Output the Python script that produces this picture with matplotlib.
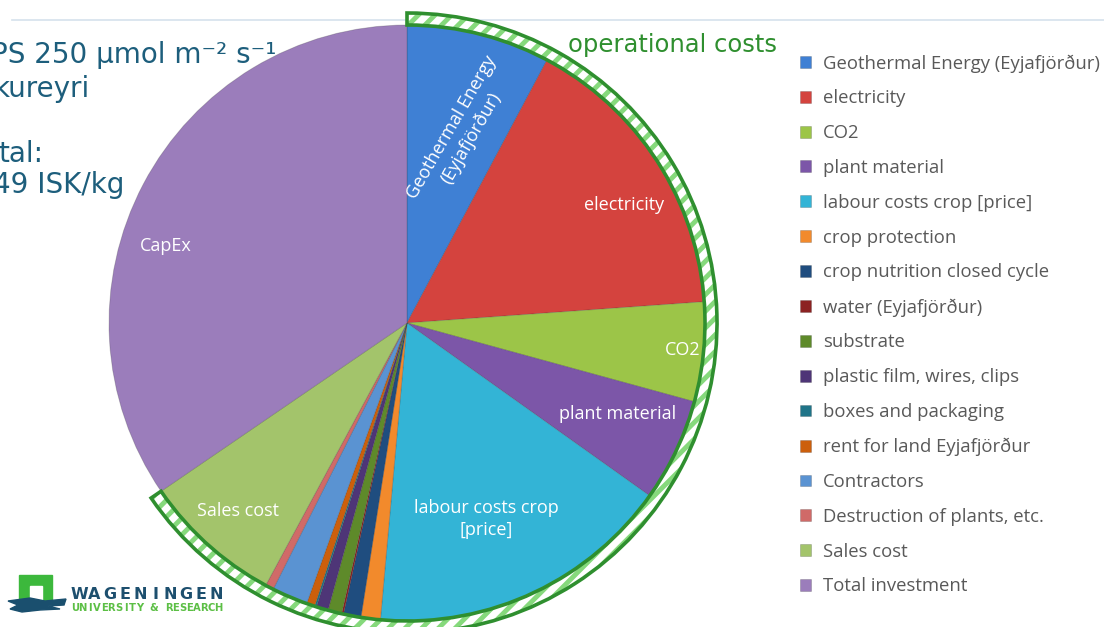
import numpy as np
import matplotlib.pyplot as plt
from matplotlib.patches import Wedge, Rectangle, Polygon

W, H = 1104, 627

categories = ["Geothermal Energy (Eyjafjörður)", "electricity", "CO2", "plant material",
              "labour costs crop [price]", "crop protection", "crop nutrition closed cycle",
              "water (Eyjafjörður)", "substrate", "plastic film, wires, clips",
              "boxes and packaging", "rent for land Eyjafjörður", "Contractors",
              "Destruction of plants, etc.", "Sales cost", "Total investment"]
shares = [7.8, 16.1, 5.4, 5.6, 16.6, 1.05, 0.95, 0.1, 0.75, 0.65, 0.1, 0.45, 1.95, 0.45, 7.6, 34.6]
colors = ["#3f80d4", "#d4433e", "#9cc548", "#7c56a8", "#33b4d6", "#f28a2c", "#1f4d7f",
          "#8c2222", "#5e8a2a", "#4e3577", "#1f7488", "#cc5f0c", "#5a93d2", "#d06a68",
          "#a3c46b", "#9b7dbb"]
slice_labels = ["Geothermal Energy\n(Eyjafjörður)", "electricity", "CO2", "plant material",
                "labour costs crop\n[price]", "", "", "", "", "", "", "", "", "", "Sales cost", "CapEx"]
n_operational = 15   # first 15 slices are the operational costs

plt.rcParams['font.family'] = ['Open Sans', 'DejaVu Sans']
fig = plt.figure(figsize=(W / 100, H / 100), dpi=100)
ax = fig.add_axes([0, 0, 1, 1])

# slide header line
ax.plot([12, W], [H - 20, H - 20], color="#d5e2ec", lw=1.2, zorder=0)

cx, cy, r = 407, H - 323, 298
wedges, _ = ax.pie(shares, colors=colors, startangle=90, counterclock=False,
                   center=(cx, cy), radius=r,
                   wedgeprops=dict(edgecolor=(0.2, 0.2, 0.2, 0.25), linewidth=0.6))
ax.set_xlim(0, W)
ax.set_ylim(0, H)
ax.set_aspect('equal')
ax.axis('off')

# labels inside slices: (radial fraction, angle shift deg, rotation)
label_pos = {0: (0.665, -2, 60), 1: (0.83, -4.4, 0), 2: (0.93, 0, 0), 3: (0.77, 2, 0),
             4: (0.71, -2.7, 0), 14: (0.85, 0, 0), 15: (0.85, 10, 0)}
for i, (rf, dth, rot) in label_pos.items():
    w = wedges[i]
    th = np.radians((w.theta1 + w.theta2) / 2 + dth)
    ax.text(cx + rf * r * np.cos(th), cy + rf * r * np.sin(th), slice_labels[i],
            color="white", fontsize=13, ha="center", va="center", rotation=rot,
            linespacing=1.3)

# operational costs band
t_end = wedges[n_operational - 1].theta1
r_out = r + 12
plt.rcParams['hatch.linewidth'] = 3.5
ax.add_patch(Wedge((cx, cy), r_out, t_end, 90, width=r_out - r, facecolor="white",
                   edgecolor="#86d97c", hatch="//", linewidth=0))
ax.add_patch(Wedge((cx, cy), r_out, t_end, 90, width=r_out - r, fill=False,
                   edgecolor="#2f8f2f", linewidth=2.6))
ax.text(568, H - 52, "operational costs", color="#2f8f2f", fontsize=17.5,
        family="DejaVu Sans", va="baseline")

# slide text (cut at left edge)
txt = dict(color="#1d5e7c", fontsize=20, family="DejaVu Sans", va="baseline")
ax.text(-9, H - 63, "PS 250 µmol m⁻² s⁻¹", **txt)
ax.text(-6, H - 97, "kureyri", **txt)
ax.text(-2, H - 162, "tal:", **txt)
ax.text(-7, H - 193, "49 ISK/kg", **txt)

# legend
ax.legend(wedges, categories, loc="upper left", bbox_to_anchor=(783 / W, 1 - 37.5 / H),
          frameon=False, fontsize=13.3, handlelength=0.62, handleheight=0.62,
          handletextpad=0.65, labelspacing=0.91, labelcolor="#595959")

# logo
ax.add_patch(Rectangle((19, H - 603), 33, 28, color="#3cb83c"))
ax.add_patch(Rectangle((30, H - 603), 12, 17, color="white"))
ax.add_patch(Polygon([(8, H - 601), (30, H - 598), (45, H - 601), (66, H - 599), (64, H - 605),
                      (48, H - 606), (60, H - 609), (40, H - 610), (22, H - 612), (10, H - 609),
                      (18, H - 605)], closed=True, color="#1a4f6e"))
for k, ch in enumerate("WAGENINGEN"):
    ax.text(79 + k * 15.2, H - 599, ch, color="#1d4f6e", fontsize=11.5, fontweight="bold",
            family="DejaVu Sans", ha="center", va="baseline")
for k, ch in enumerate("UNIVERSITY & RESEARCH"):
    ax.text(75.5 + k * 7.15, H - 611, ch, color="#5cbf45", fontsize=7.2, fontweight="bold",
            family="DejaVu Sans", ha="center", va="baseline")

fig.savefig("out.png", dpi=100)
